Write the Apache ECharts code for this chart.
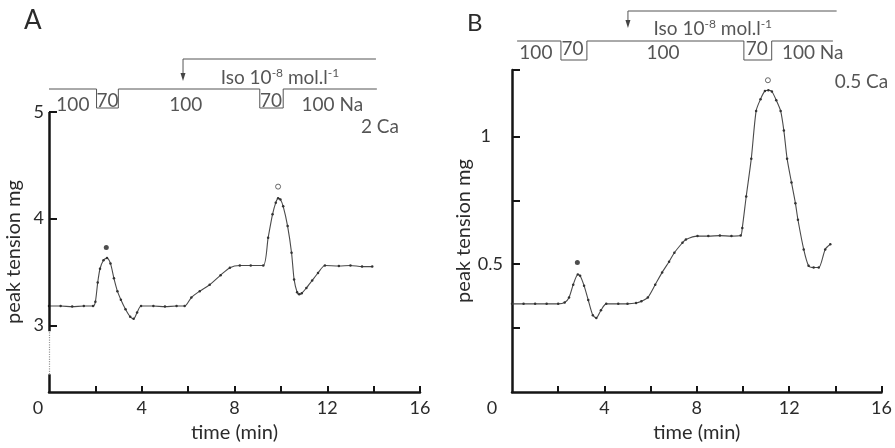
<!DOCTYPE html>
<html>
<head>
<meta charset="utf-8">
<script src="https://cdn.jsdelivr.net/npm/echarts@6/dist/echarts.min.js"></script>
<style>html,body{margin:0;padding:0;background:#fff}#c{width:895px;height:448px}</style>
</head>
<body>
<div id="c"></div>
<script>
// ---------- data ----------
const timeA = [0,0.5,1.0,1.5,1.9,2.0,2.1,2.2,2.35,2.5,2.65,2.8,2.95,3.1,3.3,3.5,3.65,3.8,3.97,4.5,5.0,5.5,5.85,6.14,6.5,6.93,7.4,7.8,8.23,8.7,9.24,9.45,9.64,9.78,9.88,9.98,10.1,10.29,10.46,10.57,10.7,10.79,10.9,11.1,11.35,11.6,11.9,12.5,13.0,13.5,13.94];
const tensionA = [3.18,3.18,3.175,3.18,3.18,3.22,3.40,3.53,3.61,3.63,3.58,3.44,3.32,3.24,3.15,3.08,3.06,3.12,3.18,3.18,3.175,3.18,3.18,3.26,3.32,3.38,3.47,3.54,3.56,3.56,3.56,3.82,4.04,4.15,4.19,4.18,4.115,3.93,3.68,3.43,3.31,3.29,3.30,3.35,3.42,3.49,3.56,3.555,3.56,3.55,3.55];
const timeB = [0,0.5,1,1.5,2.0,2.28,2.47,2.65,2.85,2.95,3.12,3.3,3.5,3.65,3.85,4.08,4.6,5.0,5.37,5.6,5.88,6.2,6.5,6.8,7.03,7.38,7.53,8.03,8.5,9.0,9.5,9.9,9.97,10.14,10.36,10.57,10.76,10.95,11.1,11.25,11.44,11.63,11.77,11.91,12.1,12.27,12.38,12.63,12.84,13.06,13.28,13.56,13.78];
const tensionB = [0.345,0.345,0.345,0.345,0.345,0.35,0.37,0.42,0.46,0.455,0.416,0.36,0.30,0.29,0.32,0.345,0.345,0.345,0.348,0.355,0.37,0.42,0.468,0.51,0.545,0.584,0.597,0.61,0.61,0.612,0.61,0.612,0.642,0.765,0.913,1.10,1.146,1.178,1.181,1.176,1.142,1.10,1.023,0.913,0.82,0.739,0.674,0.558,0.494,0.487,0.487,0.558,0.578];
// peak markers: [time, value]
const filledMarkA = [2.47, 3.73];
const openMarkA = [9.88, 4.30];
const filledMarkB = [2.83, 0.507];
const openMarkB = [11.08, 1.22];
// bath protocol (Na %) change times
const protoTimeA = [0, 2.05, 2.05, 2.99, 2.99, 9.09, 9.09, 10.1, 10.1, 14.14];
const protoNaA   = [100, 100, 70, 70, 100, 100, 70, 70, 100, 100];
const protoTimeB = [0.22, 2.11, 2.11, 3.23, 3.23, 10.0, 10.0, 11.2, 11.2, 13.84];
const protoNaB   = [100, 100, 70, 70, 100, 100, 70, 70, 100, 100];
const isoStartA = 5.78, isoEndA = 14.1;
const isoStartB = 5.0, isoEndB = 14.0;
const protoLabelsA = ['100','70','100','70','100 Na'];
const protoLabelTimesA = [1.03, 2.52, 5.9, 9.57, 12.22];
const protoLabelsB = ['100','70','100','70','100 Na'];
const protoLabelTimesB = [1.03, 2.61, 6.51, 10.56, 12.97];
const xTicks = [2,4,6,8,10,12,14,16];
const xLabels = [0,4,8,12,16];
const yTicksA = [3,4,5];
const yTicksB = [0.25,0.5,0.75,1,1.26];
const yLabelsB = [0.5,1];

// ---------- style helpers ----------
const FONT = 'Lato';
const TXT = '#2b2b2b';
const AX = '#151515';
const CURVE = '#4a4a4a';
const levelA = {100: 23, 70: 4}, levelB = {100: 29, 70: 10};
const isoLevelA = 53, isoTipA = 35, isoLevelB = 59, isoTipB = 46;
const labLevelA = {'100':7,'70':11,'100 Na':7}, labLevelB = {'100':17,'70':21,'100 Na':17};

function zip(a,b){return a.map((v,i)=>[v,b[i]]);}

function xAxisMain(gi, zeroPad){
  return {
    gridIndex: gi, type:'value', min:0, max:16,
    axisLine:{show:true, onZero:false, lineStyle:{color:AX, width:2.5}},
    axisTick:{show:true, inside:true, length:6, lineStyle:{color:AX, width:2}, customValues:xTicks},
    axisLabel:{customValues:xLabels, margin:7, color:TXT, fontFamily:FONT, fontSize:18,
      formatter: v => v===0 ? '{z|0}' : String(v),
      rich:{z:{padding:[0,zeroPad,0,0], color:TXT, fontFamily:FONT, fontSize:18}}},
    splitLine:{show:false},
    name:'time (min)', nameLocation:'middle', nameGap:31,
    nameTextStyle:{color:TXT, fontFamily:FONT, fontSize:20}
  };
}
function hiddenAxis(gi, min, max){
  return {gridIndex:gi, type:'value', min:min, max:max, show:false, splitLine:{show:false}};
}

function annSeries(xi, yi, times, na, level, isoS, isoE, isoL, isoT, labTimes, labs, labLevel, isoLabT, isoLabV){
  return [
    {type:'line', xAxisIndex:xi, yAxisIndex:yi, data: times.map((t,i)=>[t, level[na[i]]]),
      showSymbol:false, lineStyle:{color:'#555', width:1}, silent:true, animation:false, clip:false},
    {type:'line', xAxisIndex:xi, yAxisIndex:yi,
      data:[ {value:[isoE, isoL], symbol:'none'}, {value:[isoS, isoL], symbol:'none'},
             {value:[isoS, isoT], symbol:'triangle', symbolRotate:180, symbolSize:[5,8]} ],
      showSymbol:true, itemStyle:{color:'#444'}, lineStyle:{color:'#555', width:1}, silent:true, animation:false, clip:false},
    {type:'scatter', xAxisIndex:xi, yAxisIndex:yi, symbolSize:1, itemStyle:{color:'rgba(0,0,0,0)'}, clip:false,
      data: labTimes.map((t,i)=>({value:[t, labLevel[labs[i]]], name:labs[i]})).concat(
        [{value:[isoLabT, isoLabV], name:'iso'}]),
      label:{show:true, position:'inside', color:TXT, fontFamily:FONT, fontSize:19,
        formatter: p => p.name==='iso' ? 'Iso 10{s|-8} mol.l{s|-1}' : p.name,
        rich:{s:{fontSize:12, fontFamily:FONT, color:TXT, verticalAlign:'bottom', padding:[0,0,10,0]}}},
      silent:true, animation:false}
  ];
}

const chart = echarts.init(document.getElementById('c'), null, {renderer:'canvas'});
const option = {
  backgroundColor:'#fff',
  animation:false,
  grid:[
    {left:49, top:112, width:371, height:281},
    {left:49, top:42, width:371, height:70},
    {left:512, top:70, width:371, height:325},
    {left:512, top:0, width:371, height:70}
  ],
  xAxis:[ xAxisMain(0, 22), hiddenAxis(1,0,16), xAxisMain(2, 40), hiddenAxis(3,0,16) ],
  yAxis:[
    {gridIndex:0, type:'value', min:2.374, max:5,
      axisLine:{show:false},
      axisTick:{show:true, inside:true, length:8, lineStyle:{color:AX, width:2}, customValues:yTicksA},
      axisLabel:{customValues:yTicksA, margin:5, color:TXT, fontFamily:FONT, fontSize:18},
      splitLine:{show:false},
      name:'peak tension mg', nameLocation:'middle', nameGap:25,
      nameTextStyle:{color:TXT, fontFamily:FONT, fontSize:20}},
    hiddenAxis(1,0,70),
    {gridIndex:2, type:'value', min:0, max:1.26,
      axisLine:{show:true, onZero:false, lineStyle:{color:AX, width:2.5}},
      axisTick:{show:true, inside:true, length:8, lineStyle:{color:AX, width:2}, customValues:yTicksB},
      axisLabel:{customValues:yLabelsB, margin:9, color:TXT, fontFamily:FONT, fontSize:18,
        formatter: v => v===1 ? '{o|1}' : String(v),
        rich:{o:{padding:[0,12,0,0], color:TXT, fontFamily:FONT, fontSize:18}}},
      splitLine:{show:false},
      name:'peak tension mg', nameLocation:'middle', nameGap:35,
      nameTextStyle:{color:TXT, fontFamily:FONT, fontSize:20}},
    hiddenAxis(3,0,70)
  ],
  series:[
    {type:'line', xAxisIndex:0, yAxisIndex:0, data:zip(timeA, tensionA), smooth:0.25,
      symbol:'circle', symbolSize:2.5, showSymbol:true, itemStyle:{color:'#333'},
      lineStyle:{color:CURVE, width:1.1}, clip:false, silent:true,
      markLine:{silent:true, symbol:['none','none'], label:{show:false},
        lineStyle:{color:AX, width:2.5, type:'solid'},
        data:[
          [{coord:[0,2.374]},{coord:[0,2.54]}],
          [{coord:[0,2.54], lineStyle:{type:'dotted', width:1.2, color:'#9a9a9a'}},{coord:[0,2.944]}],
          [{coord:[0,2.944]},{coord:[0,5]}]
        ]}},
    {type:'scatter', xAxisIndex:0, yAxisIndex:0, silent:true, clip:false,
      data:[
        {value:filledMarkA, symbol:'circle', symbolSize:5, itemStyle:{color:'#222'}},
        {value:openMarkA, symbol:'circle', symbolSize:5, itemStyle:{color:'#fff', borderColor:'#444', borderWidth:1}},
        {value:[14.27, 4.86], name:'2 Ca', symbolSize:1, itemStyle:{color:'rgba(0,0,0,0)'}}
      ],
      label:{show:true, position:'inside', color:TXT, fontFamily:FONT, fontSize:19,
        formatter: p => p.name || ''}},
    {type:'line', xAxisIndex:2, yAxisIndex:2, data:zip(timeB, tensionB), smooth:0.25,
      symbol:'circle', symbolSize:2.5, showSymbol:true, itemStyle:{color:'#333'},
      lineStyle:{color:CURVE, width:1.1}, clip:false, silent:true},
    {type:'scatter', xAxisIndex:2, yAxisIndex:2, silent:true, clip:false,
      data:[
        {value:filledMarkB, symbol:'circle', symbolSize:5, itemStyle:{color:'#222'}},
        {value:openMarkB, symbol:'circle', symbolSize:5, itemStyle:{color:'#fff', borderColor:'#444', borderWidth:1}},
        {value:[15.13, 1.213], name:'0.5 Ca', symbolSize:1, itemStyle:{color:'rgba(0,0,0,0)'}}
      ],
      label:{show:true, position:'inside', color:TXT, fontFamily:FONT, fontSize:19,
        formatter: p => p.name || ''}},
    ...annSeries(1,1, protoTimeA, protoNaA, levelA, isoStartA, isoEndA, isoLevelA, isoTipA,
                 protoLabelTimesA, protoLabelsA, labLevelA, 9.96, 34),
    ...annSeries(3,3, protoTimeB, protoNaB, levelB, isoStartB, isoEndB, isoLevelB, isoTipB,
                 protoLabelTimesB, protoLabelsB, labLevelB, 8.66, 41)
  ],
  graphic:[
    {type:'text', left:24, top:8, style:{text:'A', fill:TXT, font:'26px Lato'}},
    {type:'text', left:467, top:11, style:{text:'B', fill:TXT, font:'24px Lato'}}
  ]
};
chart.setOption(option);
</script>
</body>
</html>
